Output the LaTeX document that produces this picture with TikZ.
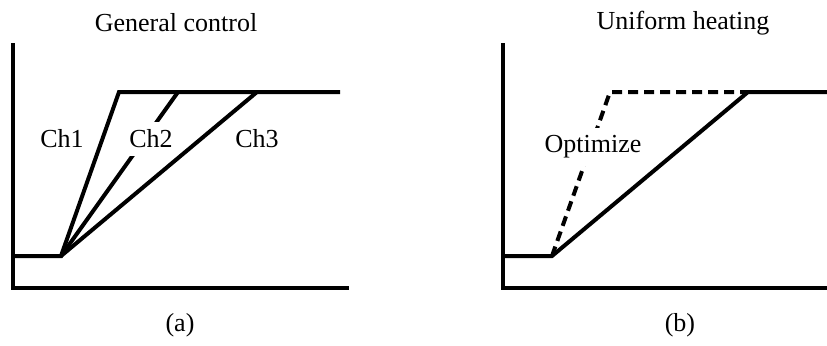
\documentclass[tikz,border=0pt]{standalone}
\usepackage{fontspec}
\setmainfont{Liberation Serif}
\usetikzlibrary{positioning}

\tikzset{
  curve/.style={line width=2pt},
  dashcurve/.style={line width=2pt,dash pattern=on 5pt off 3pt},
  axisline/.style={line width=2pt},
  lbl/.style={inner sep=1pt,font=\fontsize{13}{15.6}\selectfont},
  lblbox/.style={lbl,fill=white,inner xsep=2pt,inner ysep=4pt}
}

\begin{document}
\begin{tikzpicture}[x=0.5pt,y=-0.5pt]
\useasboundingbox (0,0) rectangle (827,345);

% (a) general control
\coordinate (ya) at (12.7,43);
\coordinate (oa) at (12.7,288);
\coordinate (xa) at (349,288);
\coordinate (la) at (12.7,256);
\coordinate (sa) at (61,256);
\coordinate (c1) at (119,92);
\coordinate (c2) at (178,92);
\coordinate (c3) at (257,92);
\coordinate (ea) at (340,92);

\draw[axisline] (ya) -- (oa) -- (xa);
\draw[curve] (la) -- (sa) -- (c1) -- (ea);
\draw[curve] (sa) -- (c2);
\draw[curve] (sa) -- (c3);

\node[lbl] (ch1) at (62,139) {Ch1};
\node[lblbox] (ch2) at (151,139) {Ch2};
\node[lbl] (ch3) at (257,139) {Ch3};
\node[lbl] (ta) at (176,23) {General control};
\node[lbl] (capa) at (180,325) {(a)};

% (b) uniform heating
\coordinate (yb) at (502.7,43);
\coordinate (ob) at (502.7,288);
\coordinate (xb) at (827,288);
\coordinate (lb) at (502.7,256);
\coordinate (sb) at (552,256);
\coordinate (d1) at (610,92);
\coordinate (d2) at (748,92);
\coordinate (eb) at (827,92);

\draw[axisline] (yb) -- (ob) -- (xb);
\draw[curve] (lb) -- (sb) -- (d2) -- (eb);
\draw[dashcurve] (sb) -- (d1) -- (d2);

\node[lblbox] (opt) at (593,147) {Optimize};
\node[lbl] (tb) at (683,23) {Uniform heating};
\node[lbl] (capb) at (680,325) {(b)};

\end{tikzpicture}
\end{document}
